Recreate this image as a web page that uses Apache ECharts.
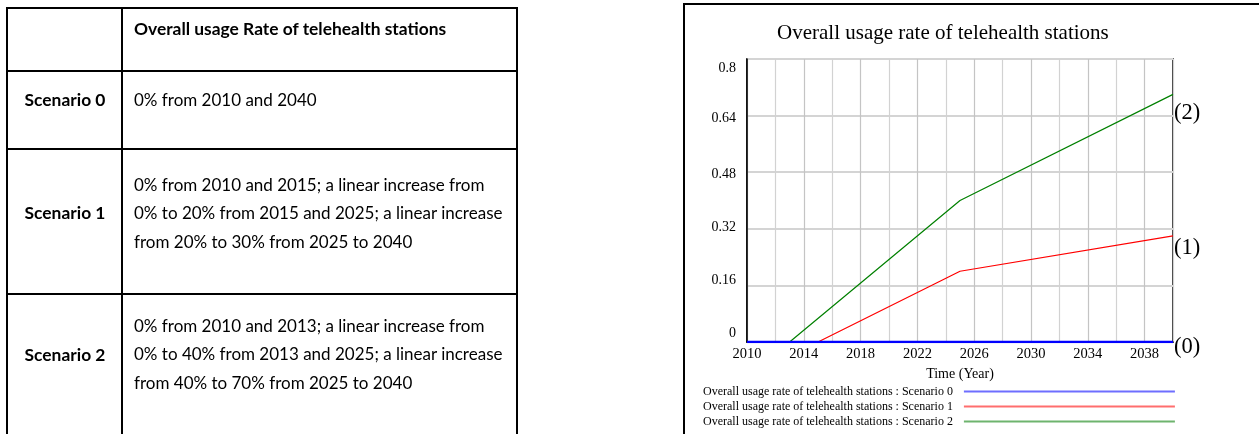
<!DOCTYPE html>
<html>
<head>
<meta charset="utf-8">
<script src="https://cdn.jsdelivr.net/npm/echarts@6/dist/echarts.min.js"></script>
<style>
html,body{margin:0;padding:0;background:#fff;width:1259px;height:434px;overflow:hidden;position:relative;}
#chart{position:absolute;left:0;top:0;width:1259px;height:520px;}
#frame{position:absolute;left:683px;top:3px;width:700px;height:500px;border-left:2px solid #000;border-top:2px solid #000;box-sizing:border-box;}
#table{position:absolute;left:0;top:0;width:600px;height:434px;font-family:Lato,"Noto Sans",sans-serif;color:#000;}
.hl{position:absolute;height:2px;background:#000;}
.vl{position:absolute;width:2px;background:#000;}
.t{position:absolute;white-space:nowrap;font-size:17px;line-height:28.5px;}
.b{font-weight:bold;font-size:17.4px;}
</style>
</head>
<body>
<div id="frame"></div>
<div id="chart"></div>
<div id="table"></div>
<script>
// ---------- Table content ----------
const tableHeader = "Overall usage Rate of telehealth stations";
const scenarioNames = ["Scenario 0", "Scenario 1", "Scenario 2"];
const scenarioText = [
  ["0% from 2010 and 2040"],
  ["0% from 2010 and 2015; a linear increase from", "0% to 20% from 2015 and 2025; a linear increase", "from 20% to 30% from 2025 to 2040"],
  ["0% from 2010 and 2013; a linear increase from", "0% to 40% from 2013 and 2025; a linear increase", "from 40% to 70% from 2025 to 2040"]
];

// ---------- Chart data ----------
const chartTitle = "Overall usage rate of telehealth stations";
const xAxisName = "Time (Year)";
const seriesNames = [
  "Overall usage rate of telehealth stations : Scenario 0",
  "Overall usage rate of telehealth stations : Scenario 1",
  "Overall usage rate of telehealth stations : Scenario 2"
];
const endTags = ["(0)", "(1)", "(2)"];
const years0 = [2010, 2040];
const values0 = [0, 0];
const years1 = [2010, 2015, 2025, 2040];
const values1 = [0, 0, 0.2, 0.3];
const years2 = [2010, 2013, 2025, 2040];
const values2 = [0, 0, 0.4, 0.7];
const xTickLabels = [2010, 2014, 2018, 2022, 2026, 2030, 2034, 2038];
const yTickLabels = [0, 0.16, 0.32, 0.48, 0.64, 0.8];

// ---------- Build table ----------
(function(){
  const T = document.getElementById('table');
  const add = (cls, css, html) => { const d = document.createElement('div'); d.className = cls; d.style.cssText = css; if (html !== undefined) d.innerHTML = html; T.appendChild(d); };
  [7, 70, 148, 293].forEach(y => add('hl', `left:6px;top:${y}px;width:512px;`));
  [6, 121, 516].forEach(x => add('vl', `left:${x}px;top:7px;height:430px;`));
  add('t b', 'left:134px;top:14.75px;', tableHeader);
  const firstLineCenters = [100, 185, 326];
  firstLineCenters.forEach((c, i) => {
    const lines = scenarioText[i];
    add('t', `left:134px;top:${c - 14.25}px;`, lines.join('<br>'));
    const mid = c + (lines.length - 1) / 2 * 28.5 + (i === 2 ? 1 : 0);
    add('t b', `left:6px;width:118px;text-align:center;top:${mid - 14.25}px;`, scenarioNames[i]);
  });
})();

// ---------- Chart ----------
const serif = '"Liberation Serif","Times New Roman",serif';
const chart = echarts.init(document.getElementById('chart'), null, {renderer: 'canvas'});
const yShift = [-9, -5, -1, 2, 3, 9];
const rich = {};
yShift.forEach((d, i) => {
  rich['y' + i] = {
    fontSize: 14, fontFamily: serif, color: '#000',
    lineHeight: 14 + 2 * Math.abs(d),
    verticalAlign: d >= 0 ? 'bottom' : 'top'
  };
});
const pairs = (xs, ys) => xs.map((x, i) => [x, ys[i]]);
const lineColors = ['#0000ff', '#ff0000', '#008000'];
const legendColors = ['#6e6eff', '#ff6e6e', '#6eb46e'];
const tagOffsets = [[1, 5], [1, 12], [1, 18.5]];
const seriesData = [pairs(years0, values0), pairs(years1, values1), pairs(years2, values2)];

const option = {
  animation: false,
  textStyle: {fontFamily: serif},
  title: {
    text: chartTitle, left: 777, top: 23, padding: 0,
    textStyle: {fontSize: 21, fontWeight: 'normal', color: '#000', fontFamily: serif}
  },
  grid: {left: 747, top: 59, width: 426, height: 283, show: true, borderColor: '#000', borderWidth: 1.5, backgroundColor: 'transparent', containLabel: false},
  xAxis: {
    type: 'value', min: 2010, max: 2040, interval: 2,
    name: xAxisName, nameLocation: 'middle', nameGap: 22,
    nameTextStyle: {fontSize: 14, color: '#000', fontFamily: serif},
    axisLine: {lineStyle: {color: '#000', width: 1.5}},
    axisTick: {show: false},
    axisLabel: {fontSize: 14.5, color: '#000', margin: 5, fontFamily: serif,
      formatter: v => xTickLabels.indexOf(v) >= 0 ? String(v) : ''},
    splitLine: {show: true, lineStyle: {color: ['#c4c4c4', '#d2d2d2'], width: 1.2}}
  },
  yAxis: {
    type: 'value', min: 0, max: 0.8, interval: 0.16,
    axisLine: {show: true, lineStyle: {color: '#000', width: 1.5}},
    axisTick: {show: false},
    axisLabel: {margin: 11, formatter: (v, i) => {
      const k = yTickLabels.findIndex(t => Math.abs(t - v) < 1e-9);
      return k < 0 ? '' : '{y' + k + '|' + yTickLabels[k] + '}';
    }, rich: rich},
    splitLine: {show: true, lineStyle: {color: '#d4d4d4', width: 1.8}}
  },
  legend: {
    orient: 'vertical', left: 703, top: 384, align: 'right', icon: 'rect', padding: 0,
    itemWidth: 211, itemHeight: 2, itemGap: 0, selectedMode: false,
    textStyle: {fontSize: 12, color: '#000', lineHeight: 15, padding: [0, 6, 0, 0], fontFamily: serif},
    data: seriesNames.map((n, i) => ({name: n, itemStyle: {color: legendColors[i]}}))
  },
  series: seriesNames.map((n, i) => ({
    name: n, type: 'line', data: seriesData[i],
    showSymbol: false, symbol: 'none', z: i === 0 ? 5 : 3,
    lineStyle: {color: lineColors[i], width: i === 0 ? 2.5 : 1.2},
    itemStyle: {color: lineColors[i]},
    endLabel: {show: true, formatter: endTags[i], fontSize: 22.5, color: '#000', fontFamily: serif, distance: 0, offset: tagOffsets[i]}
  }))
};
chart.setOption(option);
</script>
</body>
</html>
